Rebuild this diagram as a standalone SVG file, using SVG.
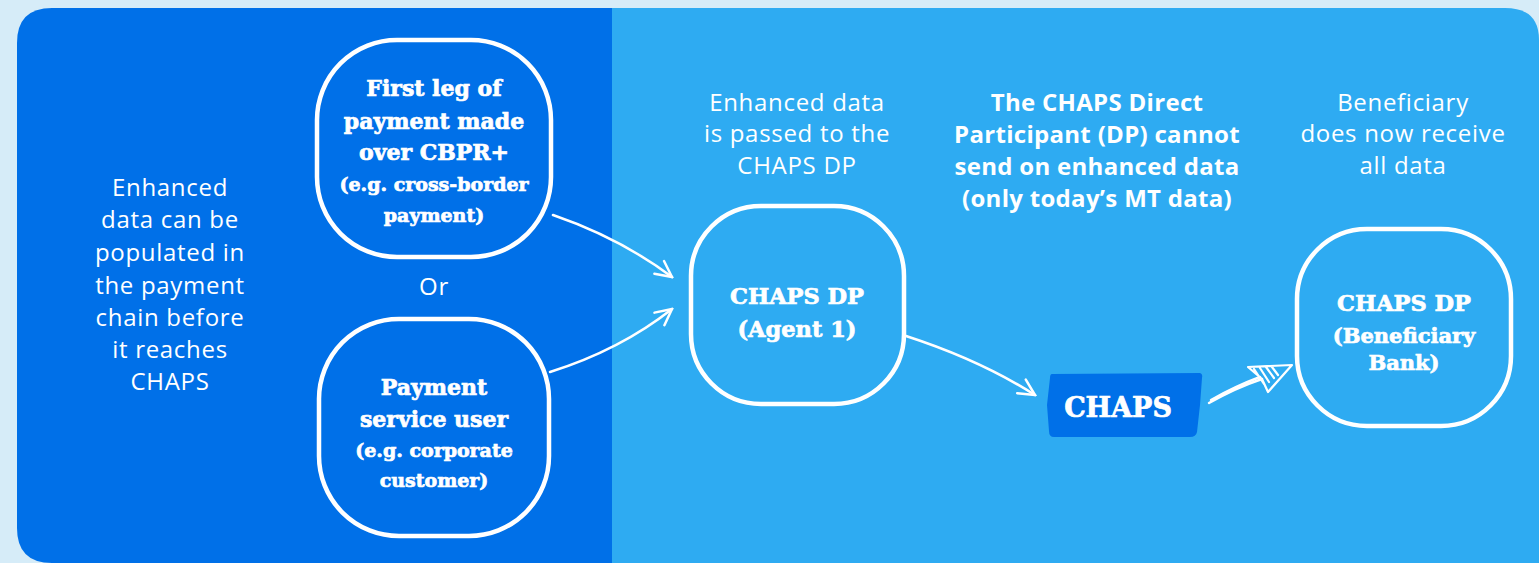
<svg xmlns="http://www.w3.org/2000/svg" width="1539" height="563" viewBox="0 0 1539 563">
<style>
.node{fill:none;stroke:#fff;stroke-width:4.5}
.slab{font-family:"DejaVu Serif","Liberation Serif",serif;font-weight:bold;fill:#fff;stroke:#fff;stroke-width:0.7;text-anchor:middle}
.lt{font-family:"Open Sans","Noto Sans",sans-serif;fill:#fff;text-anchor:middle;font-size:24px;letter-spacing:0.7px}
.bd{font-family:"Open Sans","Noto Sans",sans-serif;font-weight:bold;fill:#fff;text-anchor:middle;font-size:24px;letter-spacing:0.3px}
.conn{fill:none;stroke:#fff;stroke-width:2.5;stroke-linecap:round}
</style>
<defs>
<marker id="ah" viewBox="0 0 20 20" refX="18" refY="10" markerWidth="20" markerHeight="20" markerUnits="userSpaceOnUse" orient="auto">
<path d="M2,2 L18,10 L2,18" fill="none" stroke="#fff" stroke-width="2.5" stroke-linecap="round"/>
</marker>
</defs>
<rect width="1539" height="563" fill="#d6ecf8"/>
<path d="M612,8 L1505,8 Q1539,8 1539,40 L1539,563 L612,563 Z" fill="#2eabf2"/>
<path d="M52,8 L612,8 L612,563 L52,563 Q17,563 17,528 L17,43 Q17,8 52,8 Z" fill="#0070e8"/>

<g id="left-text">
<text class="lt" x="170" y="196">Enhanced</text>
<text class="lt" x="170" y="228">data can be</text>
<text class="lt" x="170" y="261">populated in</text>
<text class="lt" x="170" y="294">the payment</text>
<text class="lt" x="170" y="326">chain before</text>
<text class="lt" x="170" y="358">it reaches</text>
<text class="lt" x="170" y="390">CHAPS</text>
</g>

<g id="node-first-leg">
<rect class="node" x="317" y="40" width="234" height="217" rx="80" ry="80"/>
<text class="slab" x="434" y="96" font-size="22">First leg of</text>
<text class="slab" x="434" y="129" font-size="22">payment made</text>
<text class="slab" x="434" y="160" font-size="22">over CBPR+</text>
<text class="slab" x="434" y="191" font-size="19">(e.g. cross-border</text>
<text class="slab" x="434" y="222" font-size="19">payment)</text>
</g>

<g id="or-text"><text class="lt" x="434" y="295">Or</text></g>

<g id="node-psu">
<rect class="node" x="319" y="319" width="230" height="217" rx="80" ry="80"/>
<text class="slab" x="434" y="395" font-size="22">Payment</text>
<text class="slab" x="434" y="427" font-size="22">service user</text>
<text class="slab" x="434" y="457" font-size="19">(e.g. corporate</text>
<text class="slab" x="434" y="487" font-size="19">customer)</text>
</g>

<g id="text-passed">
<text class="lt" x="797" y="111">Enhanced data</text>
<text class="lt" x="797" y="142">is passed to the</text>
<text class="lt" x="797" y="174">CHAPS DP</text>
</g>

<g id="node-agent1">
<rect class="node" x="691" y="206" width="213" height="198" rx="70" ry="70"/>
<text class="slab" x="797" y="304" font-size="22.5">CHAPS DP</text>
<text class="slab" x="797" y="337" font-size="22.5">(Agent 1)</text>
</g>

<g id="text-cannot">
<text class="bd" x="1097" y="111">The CHAPS Direct</text>
<text class="bd" x="1097" y="143">Participant (DP) cannot</text>
<text class="bd" x="1097" y="175">send on enhanced data</text>
<text class="bd" x="1097" y="207">(only today’s MT data)</text>
</g>

<g id="node-chaps">
<path d="M1052,374 L1200,373 Q1203,374 1202,378 L1200,405 L1197,432 Q1196,437 1190,437 L1054,437 Q1049,437 1049,431 L1047,405 L1050,378 Q1050,374 1052,374 Z" fill="#0070e8"/>
<text class="slab" x="1118" y="417" font-size="27">CHAPS</text>
</g>

<g id="text-beneficiary">
<text class="lt" x="1403" y="111">Beneficiary</text>
<text class="lt" x="1403" y="142">does now receive</text>
<text class="lt" x="1403" y="174">all data</text>
</g>

<g id="node-beneficiary">
<rect class="node" x="1297" y="229" width="214" height="197" rx="70" ry="70"/>
<text class="slab" x="1404" y="311" font-size="22.5">CHAPS DP</text>
<text class="slab" x="1404" y="343" font-size="21">(Beneficiary</text>
<text class="slab" x="1404" y="370" font-size="21">Bank)</text>
</g>

<g id="connectors">
<path class="conn" d="M553,215 Q620,238 672,277" marker-end="url(#ah)"/>
<path class="conn" d="M550,372 Q620,350 672,309" marker-end="url(#ah)"/>
<path class="conn" d="M906,336 Q980,360 1035,395" marker-end="url(#ah)"/>
<path class="conn" d="M1209,403 Q1235,388 1262,379"/>
<path class="conn" d="M1211,400 Q1236,386 1260,377" stroke-width="1.5"/>
<path d="M1292,365 L1248,367 L1262,379 L1268,392 Z M1254,369 L1264,384 M1260,368 L1269,382 M1266,367 L1274,378 M1272,367 L1278,375" fill="none" stroke="#fff" stroke-width="2.2" stroke-linejoin="round" stroke-linecap="round"/>
</g>
</svg>
